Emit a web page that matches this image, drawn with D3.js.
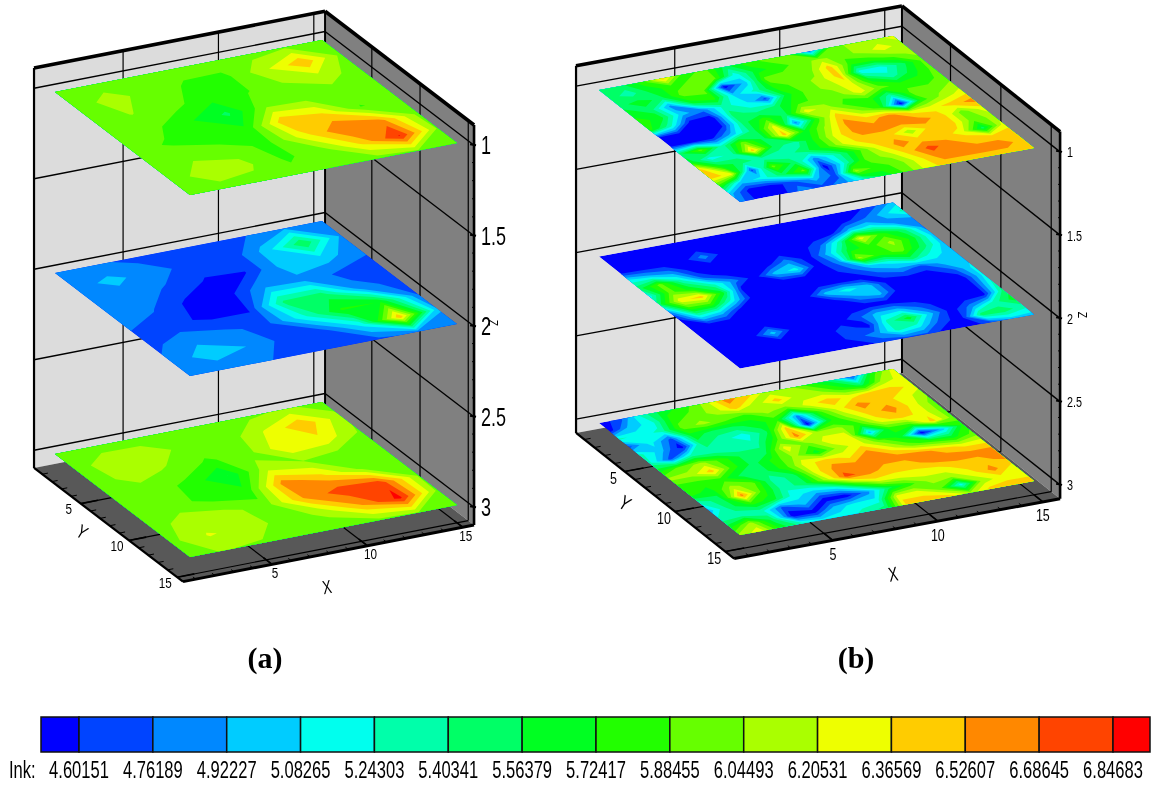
<!DOCTYPE html>
<html>
<head>
<meta charset="utf-8">
<script src="https://cdn.jsdelivr.net/npm/d3@7"></script>
<style>
  html, body { margin: 0; background: #fff; }
  svg { filter: blur(0.45px); }
  text { font-family: "Liberation Sans", Arial, sans-serif; fill: #000; }
</style>
</head>
<body>
<svg id="chart" width="1154" height="787"></svg>
<script>
// contour levels and colours of the shared legend
const levels = [4.60151, 4.76189, 4.92227, 5.08265, 5.24303, 5.40341, 5.56379, 5.72417,
  5.88455, 6.04493, 6.20531, 6.36569, 6.52607, 6.68645, 6.84683];
const bandColors = ["#0000ff", "#0044ff", "#0088ff", "#00ccff", "#00ffee", "#00ffaa", "#00ff66", "#00ff22",
  "#22ff00", "#66ff00", "#aaff00", "#eeff00", "#ffcc00", "#ff8800", "#ff4400", "#ff0000"];

const xyTicks = [5, 10, 15];
const zTicks = [1, 1.5, 2, 2.5, 3];
const planeZ = [1, 2, 3];

// panel (a) : measured every second cell
const gridA = [1, 3, 5, 7, 9, 11, 13, 15];
const inkA1 = [
  [5.97, 5.98, 5.96, 5.95, 5.96, 5.98, 6.02, 5.98],
  [5.97, 6.10, 5.98, 5.86, 5.85, 6.17, 6.50, 5.99],
  [5.96, 6.05, 5.95, 5.78, 5.87, 6.03, 6.12, 5.97],
  [5.96, 5.94, 5.75, 5.53, 6.02, 6.00, 5.97, 5.96],
  [5.97, 5.86, 5.73, 5.76, 6.50, 6.38, 5.875, 5.96],
  [5.97, 6.03, 6.00, 5.82, 6.30, 6.68, 6.60, 5.98],
  [5.98, 6.11, 6.08, 5.86, 5.96, 6.40, 6.86, 6.02],
  [5.97, 6.00, 5.98, 5.94, 5.96, 5.98, 6.02, 5.96]
];
const inkA2 = [
  [4.82, 4.80, 4.72, 4.68, 4.68, 4.76, 4.90, 4.76],
  [4.85, 4.97, 4.84, 4.70, 4.62, 4.98, 5.55, 4.88],
  [4.82, 4.84, 4.74, 4.58, 4.60, 5.00, 5.02, 4.78],
  [4.79, 4.78, 4.56, 4.53, 4.92, 4.88, 4.72, 4.72],
  [4.76, 4.66, 4.56, 4.58, 5.45, 5.48, 4.80, 4.72],
  [4.72, 4.86, 4.80, 4.70, 5.20, 5.75, 5.72, 4.76],
  [4.80, 5.02, 4.92, 4.70, 4.68, 5.15, 6.50, 4.95],
  [4.78, 4.80, 4.78, 4.68, 4.68, 4.72, 4.82, 4.78]
];
const inkA3 = [
  [5.97, 5.98, 5.99, 5.97, 5.96, 6.00, 6.08, 5.98],
  [5.98, 6.13, 6.11, 5.99, 5.95, 6.22, 6.50, 6.08],
  [5.97, 6.10, 6.03, 5.86, 5.97, 6.34, 6.32, 6.02],
  [5.96, 5.98, 5.84, 5.56, 6.14, 6.04, 5.97, 5.95],
  [5.96, 5.97, 5.82, 5.78, 6.62, 6.40, 6.00, 5.97],
  [5.97, 6.12, 6.10, 5.96, 6.54, 6.78, 6.80, 6.02],
  [5.99, 6.22, 6.15, 5.96, 6.08, 6.52, 6.90, 6.00],
  [6.03, 6.05, 6.02, 5.97, 5.97, 6.00, 6.03, 5.96]
];

// panel (b) : every cell
const gridB = [1, 2, 3, 4, 5, 6, 7, 8, 9, 10, 11, 12, 13, 14, 15];
const inkB1 = [
  [5.5, 5.5, 5.8, 6.45, 5.8, 5.95, 5.5, 5.8, 5.95, 5.95, 4.85, 5.95, 6.1, 6.1, 6.3],
  [5.5, 5.3, 5.65, 5.8, 5.95, 5.95, 5.15, 5.65, 5.8, 5.95, 6.1, 5.95, 6.1, 6.3, 6.1],
  [5.5, 5.65, 5.5, 5.95, 5.95, 4.5, 5, 5.95, 5.95, 5.95, 6.45, 5.8, 5.8, 5.95, 6.1],
  [5.65, 5.5, 4.85, 5.65, 5.8, 5, 5.3, 5.8, 5.95, 6.1, 6.45, 5.15, 5.15, 5.5, 5.95],
  [5.8, 5.65, 5, 4.8, 5.3, 5.15, 4.7, 5.65, 5.95, 6.1, 6.3, 5.65, 5.3, 5.65, 5.95],
  [5.8, 5.3, 4.5, 4.5, 5.5, 5.3, 5.5, 5.8, 5.95, 5.95, 6.3, 5.95, 5.8, 5.8, 5.95],
  [4.5, 4.5, 4.5, 4.6, 5.5, 5.8, 5.5, 6.3, 6.1, 5.8, 5.8, 5.3, 5.95, 5.95, 6.1],
  [4.5, 4.5, 4.55, 5, 5.5, 6.3, 4.85, 5.8, 6.45, 6.1, 5.8, 4.5, 5.8, 6.1, 6.3],
  [5.5, 5.95, 5.3, 5.95, 5.5, 6.45, 5.65, 6.1, 6.6, 6.45, 6.6, 6.3, 6.3, 6.45, 6.6],
  [5.65, 5.15, 5.3, 6.45, 5.5, 5.3, 5.8, 6.3, 6.6, 6.6, 6.6, 6.6, 6.45, 5.95, 6.3],
  [6.45, 5.65, 5.5, 5.3, 5.3, 5.5, 5.8, 6.3, 6.45, 6.45, 6.1, 6.45, 6.45, 5.95, 6.1],
  [6.45, 6.3, 4.7, 5.95, 5.5, 4.85, 5.3, 5.8, 6.3, 6.6, 6.45, 6.45, 6.3, 5.5, 6.3],
  [5.8, 5, 5.15, 5.5, 5.95, 4.5, 5.3, 5.95, 6.1, 6.45, 6.75, 6.6, 6.45, 6.45, 6.45],
  [5, 4.5, 4.5, 4.7, 5, 4.7, 6.1, 5.8, 5.95, 6.3, 6.6, 6.6, 6.6, 6.6, 6.45],
  [4.85, 4.5, 4.5, 4.85, 4.7, 4.85, 5.3, 5.65, 5.95, 6.3, 6.45, 6.45, 6.45, 6.45, 6.45]
];
const inkB2 = [
  [4.5, 4.5, 4.5, 4.5, 4.5, 4.5, 4.5, 4.5, 4.5, 4.5, 4.5, 4.5, 4.5, 4.7, 5],
  [4.5, 4.5, 4.5, 4.5, 4.5, 4.5, 4.5, 4.5, 4.5, 4.5, 4.5, 4.5, 4.7, 5, 5.3],
  [4.5, 4.5, 4.5, 4.5, 4.85, 4.5, 4.5, 4.5, 4.5, 4.5, 4.5, 5, 5.15, 4.85, 4.85],
  [5.15, 5, 4.85, 4.5, 4.5, 4.5, 4.5, 4.5, 4.5, 4.7, 5.3, 6.3, 5.8, 5.5, 4.85],
  [5.5, 5.95, 5.3, 4.7, 4.5, 4.5, 4.5, 4.85, 4.5, 5, 5.65, 5.8, 6.1, 5.65, 5],
  [5.15, 5.95, 5.65, 5.3, 4.85, 4.5, 5, 5.15, 4.5, 4.85, 6.1, 5.8, 5.95, 5.5, 5],
  [5.5, 6.3, 6.45, 5.65, 4.5, 4.5, 4.5, 4.5, 4.5, 4.7, 5, 5.15, 5.5, 5.15, 5],
  [4.85, 5.8, 5.8, 5.15, 4.5, 4.5, 4.5, 4.5, 4.5, 4.5, 4.7, 4.85, 4.7, 5, 5],
  [4.5, 5.15, 5, 4.5, 4.5, 4.5, 4.5, 5, 5.15, 5, 4.5, 4.5, 4.5, 4.7, 5.15],
  [4.5, 4.5, 4.5, 4.5, 4.5, 4.5, 4.5, 4.5, 4.85, 5, 4.5, 4.5, 4.5, 4.5, 5.15],
  [4.5, 4.5, 4.5, 4.5, 4.5, 4.5, 4.5, 4.5, 4.5, 4.5, 4.5, 4.5, 4.5, 4.5, 5.3],
  [4.5, 4.5, 4.5, 5, 4.5, 4.5, 4.5, 4.7, 5, 5, 4.7, 4.5, 4.5, 4.5, 5.5],
  [4.5, 4.5, 4.5, 4.5, 4.5, 4.5, 4.7, 4.5, 5.3, 5.65, 5, 4.5, 4.85, 5.3, 5.65],
  [4.5, 4.5, 4.5, 4.5, 4.5, 4.5, 4.7, 4.85, 5.3, 5.15, 4.7, 4.5, 5.5, 5.5, 5.3],
  [4.5, 4.5, 4.5, 4.5, 4.5, 4.5, 4.5, 4.7, 4.7, 4.7, 4.5, 4.5, 4.7, 5, 5]
];
const inkB3 = [
  [4.5, 4.7, 5.3, 5.65, 5.8, 6.1, 6.6, 6.45, 6.1, 6.1, 5.8, 5.5, 4.7, 5.8, 6.3],
  [4.5, 5, 5.15, 5.8, 5.95, 6.1, 6.45, 6.1, 6.45, 6.1, 6.1, 5.8, 5.5, 6.1, 6.3],
  [5.3, 5.15, 5.3, 5.95, 6.1, 5.95, 5.8, 6.1, 5.95, 6.3, 6.45, 6.3, 6.45, 6.45, 6.3],
  [4.7, 5.15, 4.7, 5.65, 5.5, 5.5, 5.65, 5.8, 4.85, 5.8, 6.3, 6.6, 6.45, 6.3, 6.1],
  [5.3, 5, 4.5, 5.5, 5.3, 5.15, 5.5, 6.45, 4.5, 5.65, 6.1, 6.45, 6.6, 6.3, 5.95],
  [5.3, 4.7, 5.3, 5.3, 5.3, 5.3, 5.8, 6.6, 6.1, 6.1, 5.8, 6.3, 6.45, 6.3, 5.95],
  [5.65, 5.95, 6.1, 5.8, 5.5, 5.5, 6.3, 5.95, 6.3, 6.3, 5, 5.8, 5.8, 6.45, 5.95],
  [6.1, 6.1, 6.45, 5.8, 5.5, 5.8, 6.1, 5.65, 6.1, 6.3, 5.95, 5.65, 4.5, 5, 5.8],
  [5.8, 5.8, 5.8, 5.5, 5.5, 5.8, 6.3, 6.45, 6.3, 6.6, 6.3, 5.95, 5.8, 5.65, 5.95],
  [5.8, 5.65, 6.1, 5.95, 5.3, 5.5, 6.3, 6.6, 6.6, 6.6, 6.6, 6.6, 6.45, 6.3, 6.3],
  [5.3, 5.5, 6.6, 5.8, 5.3, 5.5, 6.1, 6.75, 6.6, 6.45, 6.45, 6.6, 6.6, 6.6, 6.6],
  [5, 5.5, 5.8, 5.65, 5.15, 5, 5.15, 5.8, 6.3, 6.3, 6.3, 6.3, 6.45, 6.45, 6.6],
  [5.3, 5.3, 5.3, 4.7, 5, 4.5, 4.5, 4.85, 5.5, 5.8, 6.1, 6.1, 6.3, 6.6, 6.3],
  [5.65, 6.1, 5.5, 4.5, 4.5, 5, 5.15, 5.15, 6.3, 6.3, 5.95, 5.15, 6.1, 6.3, 6.3],
  [6.1, 6.3, 5.65, 5.3, 5.15, 5.15, 5.3, 5.5, 6.45, 6.45, 6.45, 6.1, 6.45, 6.45, 6.45]
];

const svg = d3.select("#chart");

// squeeze a text horizontally, the labels of the original are very narrow
function squeeze(sel, k) {
  sel.attr("textLength", function () { return this.getComputedTextLength() * k; })
    .attr("lengthAdjust", "spacingAndGlyphs");
}

function drawPanel(p, index) {
  const g = svg.append("g");

  // oblique projection, one scale per screen contribution
  const xToH = d3.scaleLinear([1, 15], [0, p.xVec[0]]);
  const xToV = d3.scaleLinear([1, 15], [0, p.xVec[1]]);
  const yToH = d3.scaleLinear([1, 15], [0, p.yVec[0]]);
  const yToV = d3.scaleLinear([1, 15], [0, p.yVec[1]]);
  const zToV = d3.scaleLinear([1, 3], [0, p.zLen]);
  const project = (x, y, z) => [p.origin[0] + xToH(x) + yToH(y), p.origin[1] + xToV(x) + yToV(y) + zToV(z)];

  const [x0, x1] = p.xBox, [y0, y1] = p.yBox, [z0, z1] = p.zBox;
  const line = d3.line();
  const face = (pts, fill) => g.append("path").attr("d", line(pts) + "Z").attr("fill", fill);
  const seg = (a, b, w) => g.append("path").attr("d", line([a, b])).attr("fill", "none")
    .attr("stroke", "#000").attr("stroke-width", w);

  face([project(x0, y0, z0), project(x1, y0, z0), project(x1, y0, z1), project(x0, y0, z1)], p.backFill);
  face([project(x1, y0, z0), project(x1, y1, z0), project(x1, y1, z1), project(x1, y0, z1)], "#808080");
  face([project(x0, y0, z1), project(x1, y0, z1), project(x1, y1, z1), project(x0, y1, z1)], "#585858");

  // grid lines
  xyTicks.forEach((t) => {
    seg(project(t, y0, z0), project(t, y0, z1), 1.2);
    seg(project(t, y0, z1), project(t, y1, z1), 1.2);
    seg(project(x1, t, z0), project(x1, t, z1), 1.2);
    seg(project(x0, t, z1), project(x1, t, z1), 1.2);
  });
  zTicks.forEach((t) => {
    seg(project(x0, y0, t), project(x1, y0, t), 1.4);
    seg(project(x1, y0, t), project(x1, y1, t), 1.4);
  });

  // box edges
  seg(project(x1, y0, z0), project(x1, y0, z1), 2);
  seg(project(x0, y0, z0), project(x0, y0, z1), 2.2);
  seg(project(x0, y0, z1), project(x0, y1, z1), 2.2);
  seg(project(x0, y1, z1), project(x1, y1, z1), 3);
  seg(project(x1, y1, z1), project(x1, y1, z0), 2.6);
  seg(project(x0, y0, z0), project(x1, y0, z0), 3.6);
  seg(project(x1, y0, z0), project(x1, y1, z0), 3.6);

  // minor and major ticks on the three axes
  d3.range(1, 16).forEach((t) => {
    const major = xyTicks.includes(t);
    seg(project(t, y1, z1), project(t, y1 - (major ? 0.9 : 0.3), z1), major ? 1.6 : 1);
    seg(project(x0, t, z1), project(x0 + (major ? 0.9 : 0.3), t, z1), major ? 1.6 : 1);
  });
  d3.range(1, 3.01, 0.1).forEach((t) => {
    const major = zTicks.some((v) => Math.abs(v - t) < 1e-6);
    const a = project(x1, y1, t);
    seg([a[0] + (major ? 2 : 0), a[1]], [a[0] - (major ? 4 : 2), a[1] - 1], major ? 2 : 1);
  });

  // the three contoured planes
  p.planes.forEach((ink, k) => {
    const z = planeZ[k];
    const n = p.grid.length;
    const gridScale = d3.scaleLinear([0.5, n - 0.5], [p.grid[0], p.grid[n - 1]]);
    const path = d3.geoPath(d3.geoTransform({
      point(a, b) {
        const s = project(gridScale(a), gridScale(b), z);
        this.stream.point(s[0], s[1]);
      }
    }));
    const corners = [project(1, 1, z), project(15, 1, z), project(15, 15, z), project(1, 15, z)];
    const id = "clip" + index + "_" + k;
    svg.append("clipPath").attr("id", id).append("path").attr("d", line(corners) + "Z");

    const plane = g.append("g").attr("clip-path", "url(#" + id + ")");
    plane.append("path").attr("d", line(corners) + "Z").attr("fill", bandColors[0]);
    const contours = d3.contours().size([n, n]).thresholds(levels)(ink.flat());
    plane.selectAll("path.band").data(contours).join("path")
      .attr("class", "band")
      .attr("d", path)
      .attr("fill", (d) => bandColors[levels.indexOf(d.value) + 1]);
  });

  // labels
  xyTicks.forEach((t) => {
    const a = project(t, y1, z1);
    g.append("text").attr("x", a[0] + p.xLabel[0]).attr("y", a[1] + p.xLabel[1])
      .attr("text-anchor", "middle").attr("dominant-baseline", "central")
      .attr("font-size", p.tickSize).text(t).call(squeeze, 0.78);
    const b = project(x0, t, z1);
    g.append("text").attr("x", b[0] + p.yLabel[0]).attr("y", b[1] + p.yLabel[1])
      .attr("text-anchor", "middle").attr("dominant-baseline", "central")
      .attr("font-size", p.tickSize).text(t).call(squeeze, 0.78);
  });
  zTicks.forEach((t) => {
    const a = project(x1, y1, t);
    g.append("text").attr("x", a[0] + p.zLabelX).attr("y", a[1])
      .attr("dominant-baseline", "central")
      .attr("font-size", p.zSize).text(t).call(squeeze, 0.72);
  });

  g.append("text").attr("transform", `translate(${p.xTitle}) rotate(-10)`)
    .attr("text-anchor", "middle").attr("dominant-baseline", "central")
    .attr("font-size", p.titleSize).text("X").call(squeeze, 0.7);
  g.append("text").attr("transform", `translate(${p.yTitle}) rotate(32)`)
    .attr("text-anchor", "middle").attr("dominant-baseline", "central")
    .attr("font-size", p.titleSize).text("Y").call(squeeze, 0.75);
  g.append("text").attr("transform", `translate(${p.zTitle}) rotate(90)`)
    .attr("text-anchor", "middle").attr("dominant-baseline", "central")
    .attr("font-size", p.zTitleSize).text("Z").call(squeeze, 0.8);

  svg.append("text").attr("x", p.caption[0]).attr("y", p.caption[1])
    .attr("text-anchor", "middle").attr("dominant-baseline", "central")
    .style("font-family", "'Liberation Serif', 'Times New Roman', serif")
    .attr("font-weight", "bold").attr("font-size", 30).text(p.label);
}

drawPanel({
  label: "(a)", caption: [265, 657],
  origin: [55, 92], xVec: [267, -52], yVec: [135, 103], zLen: 362,
  xBox: [0.33, 15.59], yBox: [0.15, 15.6], zBox: [0.888, 3.098],
  backFill: "#dcdcdc", grid: gridA, planes: [inkA1, inkA2, inkA3],
  xLabel: [3, 8], yLabel: [-12, 5], tickSize: 15, zLabelX: 7, zSize: 25,
  xTitle: [327, 587], yTitle: [82, 532], zTitle: [493, 323], titleSize: 19, zTitleSize: 13
}, 0);

drawPanel({
  label: "(b)", caption: [856, 657],
  origin: [599, 90], xVec: [294, -54], yVec: [141, 112], zLen: 333,
  xBox: [0.3, 15.82], yBox: [0.18, 15.88], zBox: [0.878, 3.083],
  backFill: "#e0e0e0", grid: gridB, planes: [inkB1, inkB2, inkB3],
  xLabel: [0, 14], yLabel: [-11, 7], tickSize: 16, zLabelX: 7, zSize: 15,
  xTitle: [893, 574], yTitle: [625, 503], zTitle: [1082, 315], titleSize: 20, zTitleSize: 13
}, 1);

// legend
const legendX = d3.scaleLinear([levels[0], levels[levels.length - 1]], [79, 1113]);
const legendEdges = [legendX.invert(41), ...levels, legendX.invert(1150)];
const legend = svg.append("g");
legend.selectAll("rect").data(bandColors).join("rect")
  .attr("x", (d, i) => legendX(legendEdges[i]))
  .attr("y", 717)
  .attr("width", (d, i) => legendX(legendEdges[i + 1]) - legendX(legendEdges[i]))
  .attr("height", 35)
  .attr("fill", (d) => d)
  .attr("stroke", "#111")
  .attr("stroke-width", 1.5);
legend.selectAll("text.level").data(levels).join("text")
  .attr("class", "level")
  .attr("transform", (d) => `translate(${legendX(d)},769) scale(0.69,1)`)
  .attr("text-anchor", "middle")
  .attr("dominant-baseline", "central")
  .attr("font-size", 24)
  .text((d) => d.toFixed(5));
legend.append("text").attr("transform", "translate(9,769) scale(0.69,1)")
  .attr("dominant-baseline", "central")
  .attr("font-size", 24)
  .text("Ink:");
</script>
</body>
</html>
